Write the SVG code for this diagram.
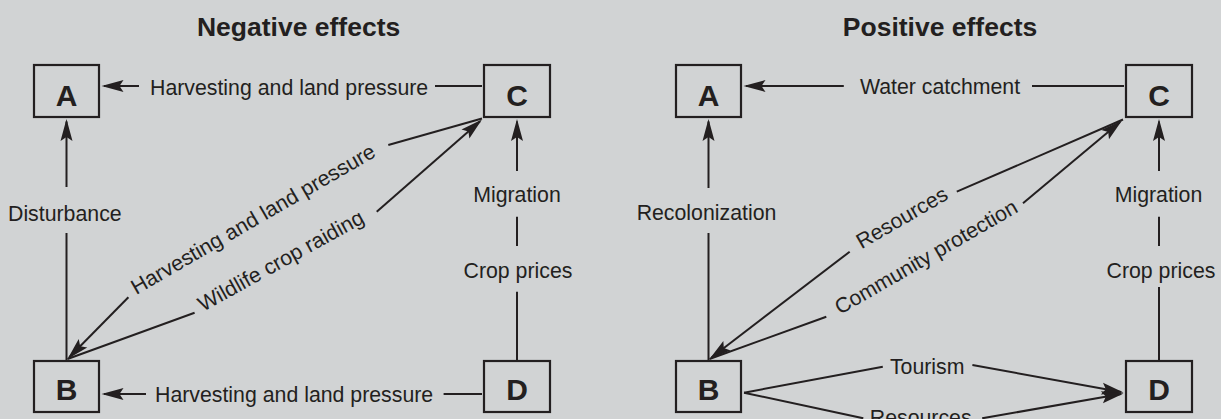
<svg xmlns="http://www.w3.org/2000/svg" width="1221" height="419" viewBox="0 0 1221 419">
<style>
.bg{fill:#d1d3d4}
.box{fill:none;stroke:#231f20;stroke-width:2.2}
.ln{fill:none;stroke:#231f20;stroke-width:2}
.arr{fill:none;stroke:#231f20;stroke-width:2;marker-end:url(#ah)}
.t{font-family:"Liberation Sans",Arial,sans-serif;font-size:21.3px;fill:#231f20}
.ttl{font-family:"Liberation Sans",Arial,sans-serif;font-size:26.5px;font-weight:bold;fill:#231f20;text-anchor:middle}
.lt{font-family:"Liberation Sans",Arial,sans-serif;font-size:30px;font-weight:bold;fill:#231f20;text-anchor:middle}
.m{text-anchor:middle}
</style>
<defs>
<marker id="ah" viewBox="-21 -7 25 14" refX="0" refY="0" markerWidth="25" markerHeight="14" markerUnits="userSpaceOnUse" orient="auto" overflow="visible">
<path d="M2.5,0 L-19.5,-6 L-15.5,0 L-19.5,6 Z" fill="#231f20"/>
</marker>
</defs>
<rect class="bg" x="0" y="0" width="1221" height="419"/>
<text class="ttl" x="298.6" y="36">Negative effects</text>
<text class="ttl" x="940" y="36">Positive effects</text>

<g id="neg-A"><rect class="box" x="34" y="65" width="65" height="52"/><text class="lt" x="66.5" y="106">A</text></g>
<g id="neg-C"><rect class="box" x="484" y="65" width="66" height="52"/><text class="lt" x="517" y="106">C</text></g>
<g id="neg-B"><rect class="box" x="34" y="361" width="65" height="51"/><text class="lt" x="66.5" y="400">B</text></g>
<g id="neg-D"><rect class="box" x="484" y="361" width="66" height="51"/><text class="lt" x="517" y="400">D</text></g>

<g id="pos-A"><rect class="box" x="676" y="65" width="65" height="52"/><text class="lt" x="708.5" y="106">A</text></g>
<g id="pos-C"><rect class="box" x="1126" y="65" width="66" height="52"/><text class="lt" x="1159" y="106">C</text></g>
<g id="pos-B"><rect class="box" x="676" y="361" width="65" height="51"/><text class="lt" x="708.5" y="400">B</text></g>
<g id="pos-D"><rect class="box" x="1126" y="361" width="66" height="51"/><text class="lt" x="1159" y="400">D</text></g>

<g id="connectors">
<!-- Negative: C -> A -->
<line class="ln" x1="482" y1="86" x2="435" y2="86"/>
<line class="arr" x1="139" y1="86" x2="104" y2="86"/>
<text class="t" x="150" y="94.5">Harvesting and land pressure</text>
<!-- Negative: D -> B -->
<line class="ln" x1="482" y1="394" x2="443.6" y2="394"/>
<line class="arr" x1="146" y1="394" x2="104" y2="394"/>
<text class="t" x="155" y="402">Harvesting and land pressure</text>
<!-- Negative: B -> A -->
<line class="ln" x1="66.5" y1="360" x2="66.5" y2="233"/>
<line class="arr" x1="66.5" y1="187" x2="66.5" y2="121.5"/>
<text class="t" x="8" y="220.7">Disturbance</text>
<!-- Negative: D -> C -->
<line class="ln" x1="517" y1="360" x2="517" y2="291.7"/>
<line class="ln" x1="517" y1="246" x2="517" y2="216.7"/>
<line class="arr" x1="517" y1="171" x2="517" y2="121.5"/>
<text class="t m" x="517" y="202">Migration</text>
<text class="t m" x="518" y="278">Crop prices</text>
<!-- Negative: C -> B (harvesting) -->
<line class="ln" x1="482" y1="118.5" x2="388.3" y2="145"/>
<line class="arr" x1="128.4" y1="297.3" x2="69.3" y2="357.2"/>
<text class="t" transform="translate(136.2 295) rotate(-30)">Harvesting and land pressure</text>
<!-- Negative: B -> C (wildlife) -->
<line class="ln" x1="67.5" y1="359" x2="194.6" y2="312.7"/>
<line class="arr" x1="376.7" y1="211.7" x2="480.1" y2="121.2"/>
<text class="t" transform="translate(203 312) rotate(-29)">Wildlife crop raiding</text>

<!-- Positive: C -> A -->
<line class="ln" x1="1124" y1="86" x2="1032" y2="86"/>
<line class="arr" x1="843.8" y1="86" x2="746" y2="86"/>
<text class="t m" x="940" y="94">Water catchment</text>
<!-- Positive: B -> A -->
<line class="ln" x1="708.5" y1="360" x2="708.5" y2="233"/>
<line class="arr" x1="708.5" y1="188" x2="708.5" y2="121.5"/>
<text class="t m" x="706.5" y="220">Recolonization</text>
<!-- Positive: D -> C -->
<line class="ln" x1="1159" y1="360" x2="1159" y2="287"/>
<line class="ln" x1="1159" y1="246" x2="1159" y2="216.7"/>
<line class="arr" x1="1159" y1="171" x2="1159" y2="121.5"/>
<text class="t m" x="1158.5" y="202">Migration</text>
<text class="t m" x="1161" y="277.5">Crop prices</text>
<!-- Positive: C -> B (resources) -->
<line class="ln" x1="1123" y1="119.5" x2="956.8" y2="191.7"/>
<line class="arr" x1="849.7" y1="251.7" x2="711.5" y2="357.5"/>
<text class="t" transform="translate(861.4 249.3) rotate(-30)">Resources</text>
<!-- Positive: B -> C (community protection) -->
<line class="ln" x1="709.5" y1="359" x2="826.3" y2="316.7"/>
<line class="arr" x1="1023" y1="203.3" x2="1120.1" y2="122.1"/>
<text class="t" transform="translate(839.9 315) rotate(-30)">Community protection</text>
<!-- Positive: B -> D (tourism) -->
<line class="ln" x1="744" y1="392.7" x2="882.8" y2="366.7"/>
<line class="arr" x1="972.4" y1="365" x2="1121.1" y2="392.05"/>
<text class="t m" x="927.2" y="374">Tourism</text>
<!-- Positive: B -> D (resources) -->
<line class="ln" x1="744" y1="392.7" x2="863.3" y2="418.3"/>
<line class="arr" x1="982.2" y1="418.3" x2="1121.1" y2="393.9"/>
<text class="t m" x="920.7" y="425">Resources</text>
</g>
</svg>
